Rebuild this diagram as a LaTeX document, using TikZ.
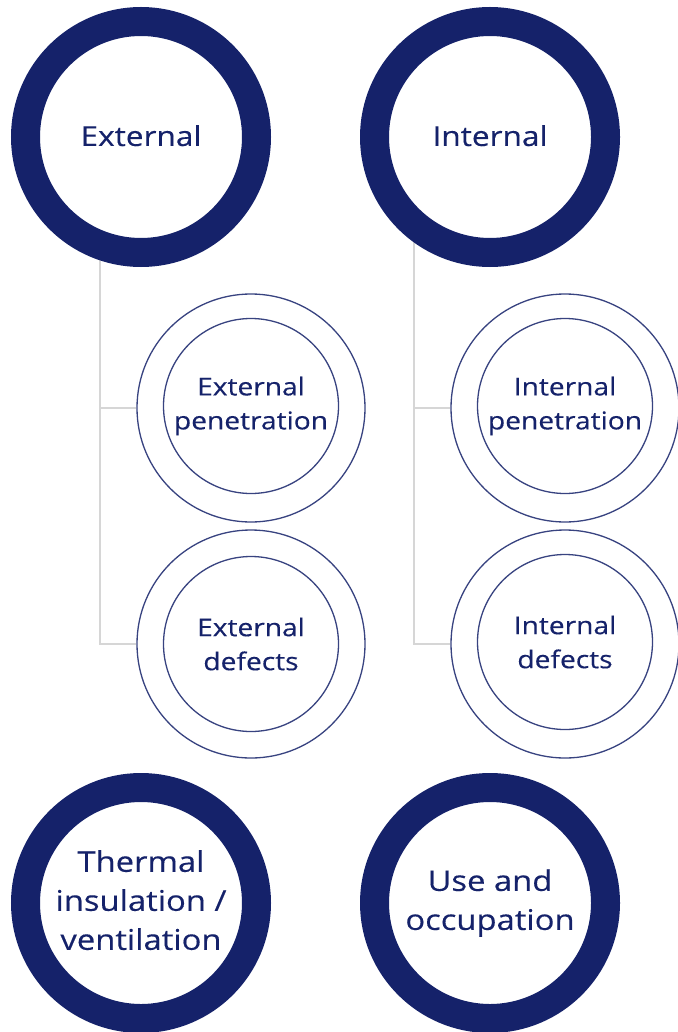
\documentclass[tikz,border=0pt]{standalone}
\usepackage{fontspec}
\setmainfont{Open Sans}[FakeStretch=1.15, FakeBold=0.3]
\definecolor{navy}{HTML}{15226A}
\definecolor{linkgray}{HTML}{D6D6D6}
\begin{document}
\begin{tikzpicture}[x=1pt,y=-1pt,
  bigring/.style={circle, draw=navy, line width=29pt, fill=white,
    minimum size=231pt, inner sep=0pt, align=center, text=navy,
    font=\fontsize{27.5}{39}\selectfont},
  bottomtext/.style={font=\fontsize{28.5}{39}\selectfont},
  outerring/.style={circle, draw=navy!85, line width=1.3pt, fill=white,
    minimum size=228pt, inner sep=0pt},
  innerring/.style={circle, draw=navy!85, line width=1.3pt,
    minimum size=175pt, inner sep=0pt, align=center, text=navy,
    font=\fontsize{24.5}{34}\selectfont},
  conn/.style={draw=linkgray, line width=2.4pt}]
\useasboundingbox (0,0) rectangle (677,1032);

% branch points of the two trees
\coordinate (trunkL) at (100,137);
\coordinate (trunkR) at (414,137);

% sub-factor circles
\node[outerring] (extpen) at (251,408) {};
\node[innerring] (extpenI) at (251,406) {External\\penetration};
\node[outerring] (extdef) at (251,644) {};
\node[innerring] (extdefI) at (251,644) {External\\defects};
\node[outerring] (intpen) at (565,408) {};
\node[innerring] (intpenI) at (565,406) {Internal\\penetration};
\node[outerring] (intdef) at (565,644) {};
\node[innerring] (intdefI) at (565,642) {Internal\\defects};

% connectors
\draw[conn] (trunkL) |- (extdef.west);
\draw[conn] (trunkL |- extpen.west) -- (extpen.west);
\draw[conn] (trunkR) |- (intdef.west);
\draw[conn] (trunkR |- intpen.west) -- (intpen.west);

% main factor circles
\node[bigring] (ext) at (141,137) {\raisebox{3pt}{External}};
\node[bigring] (int) at (490,137) {\raisebox{3pt}{Internal}};
\node[bigring, bottomtext] (therm) at (141,903) {\raisebox{5pt}{\begin{tabular}{@{}c@{}}Thermal\\insulation /\\ventilation\end{tabular}}};
\node[bigring, bottomtext] (use) at (490,903) {Use and\\occupation};
\end{tikzpicture}
\end{document}
